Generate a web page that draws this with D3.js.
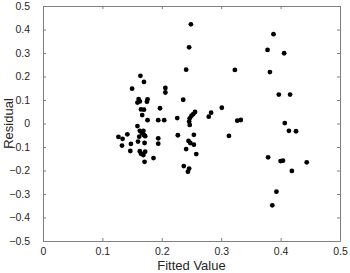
<!DOCTYPE html>
<html>
<head>
<meta charset="utf-8">
<script src="https://cdn.jsdelivr.net/npm/d3@7"></script>
<style>
  body { margin: 0; background: #fff; }
  svg { display: block; font-family: "Liberation Sans", Arial, sans-serif; }
</style>
</head>
<body>
<svg id="chart"></svg>
<script>
// fitted values (x) and residuals (y)
const fitted = [
  0.164, 0.170, 0.150, 0.206, 0.206, 0.161, 0.163, 0.176, 0.175, 0.159,
  0.197, 0.165, 0.170, 0.167, 0.176, 0.194, 0.204, 0.159, 0.163, 0.169,
  0.167, 0.170, 0.172, 0.127, 0.134, 0.142, 0.133, 0.148, 0.160, 0.171,
  0.194, 0.194, 0.147, 0.163, 0.172, 0.165, 0.169, 0.186, 0.171, 0.162,
  0.241, 0.249, 0.246, 0.236, 0.226, 0.256, 0.253, 0.250, 0.247, 0.246,
  0.247, 0.227, 0.254, 0.245, 0.248, 0.254, 0.241, 0.258, 0.237, 0.246,
  0.244, 0.279, 0.283, 0.301, 0.323, 0.327, 0.333, 0.313,
  0.388, 0.378, 0.406, 0.382, 0.397, 0.416, 0.407, 0.414, 0.426, 0.379,
  0.400, 0.404, 0.419, 0.444, 0.393, 0.386
];
const residuals = [
  0.203, 0.177, 0.148, 0.151, 0.132, 0.104, 0.094, 0.103, 0.093, 0.089,
  0.065, 0.060, 0.059, 0.036, 0.014, 0.014, 0.014, -0.011, -0.031, -0.031,
  -0.042, -0.049, -0.054, -0.057, -0.065, -0.046, -0.094, -0.087, -0.077, -0.083,
  -0.063, -0.086, -0.117, -0.118, -0.120, -0.129, -0.134, -0.147, -0.163, -0.056,
  0.229, 0.422, 0.324, 0.101, 0.023, 0.049, 0.040, 0.033, 0.022, 0.008,
  -0.006, -0.050, -0.048, -0.074, -0.083, -0.090, -0.109, -0.130, -0.181, -0.192,
  -0.205, 0.029, 0.046, 0.067, 0.228, 0.012, 0.015, -0.053,
  0.380, 0.313, 0.299, 0.219, 0.123, 0.123, 0.002, -0.031, -0.033, -0.144,
  -0.160, -0.158, -0.202, -0.165, -0.290, -0.348
];
const xTicks = [0, 0.1, 0.2, 0.3, 0.4, 0.5];
const yTicks = [-0.5, -0.4, -0.3, -0.2, -0.1, 0, 0.1, 0.2, 0.3, 0.4, 0.5];

const width = 350, height = 273;
const margin = { top: 6, right: 10, bottom: 32, left: 43 };
const w = width - margin.left - margin.right;
const h = height - margin.top - margin.bottom;
const axisColor = "#808080";
const textColor = "#262626";

const svg = d3.select("#chart").attr("width", width).attr("height", height);
const g = svg.append("g").attr("transform", `translate(${margin.left},${margin.top})`);

const x = d3.scaleLinear().domain([0, 0.5]).range([0, w]);
const y = d3.scaleLinear().domain([-0.5, 0.5]).range([h, 0]);
const fmt = d => (d === 0 ? "0" : d3.format(".1f")(d));

// axes with inward ticks, mirrored on top and right
function styleAxis(sel, showText) {
  sel.select(".domain").attr("stroke", axisColor);
  sel.selectAll(".tick line").attr("stroke", axisColor);
  sel.selectAll(".tick text")
    .attr("fill", textColor)
    .attr("font-size", 10.5)
    .style("display", showText ? null : "none");
}

g.append("g").attr("transform", `translate(0,${h})`)
  .call(d3.axisBottom(x).tickValues(xTicks).tickFormat(fmt).tickSizeInner(-3).tickSizeOuter(0).tickPadding(7))
  .call(s => styleAxis(s, true));
g.append("g")
  .call(d3.axisTop(x).tickValues(xTicks).tickSizeInner(-3).tickSizeOuter(0))
  .call(s => styleAxis(s, false));
g.append("g")
  .call(d3.axisLeft(y).tickValues(yTicks).tickFormat(fmt).tickSizeInner(-3).tickSizeOuter(0).tickPadding(13))
  .call(s => styleAxis(s, true));
g.append("g").attr("transform", `translate(${w},0)`)
  .call(d3.axisRight(y).tickValues(yTicks).tickSizeInner(-3).tickSizeOuter(0))
  .call(s => styleAxis(s, false));

g.selectAll("circle")
  .data(fitted.map((f, i) => ({ f, r: residuals[i] })))
  .join("circle")
  .attr("cx", d => x(d.f))
  .attr("cy", d => y(d.r))
  .attr("r", 2.4)
  .attr("fill", "#000");

svg.append("text")
  .attr("x", margin.left + w / 2)
  .attr("y", 270)
  .attr("text-anchor", "middle")
  .attr("font-size", 13)
  .attr("fill", textColor)
  .text("Fitted Value");

svg.append("text")
  .attr("transform", `translate(13,${margin.top + h / 2}) rotate(-90)`)
  .attr("text-anchor", "middle")
  .attr("font-size", 13)
  .attr("fill", textColor)
  .text("Residual");
</script>
</body>
</html>
